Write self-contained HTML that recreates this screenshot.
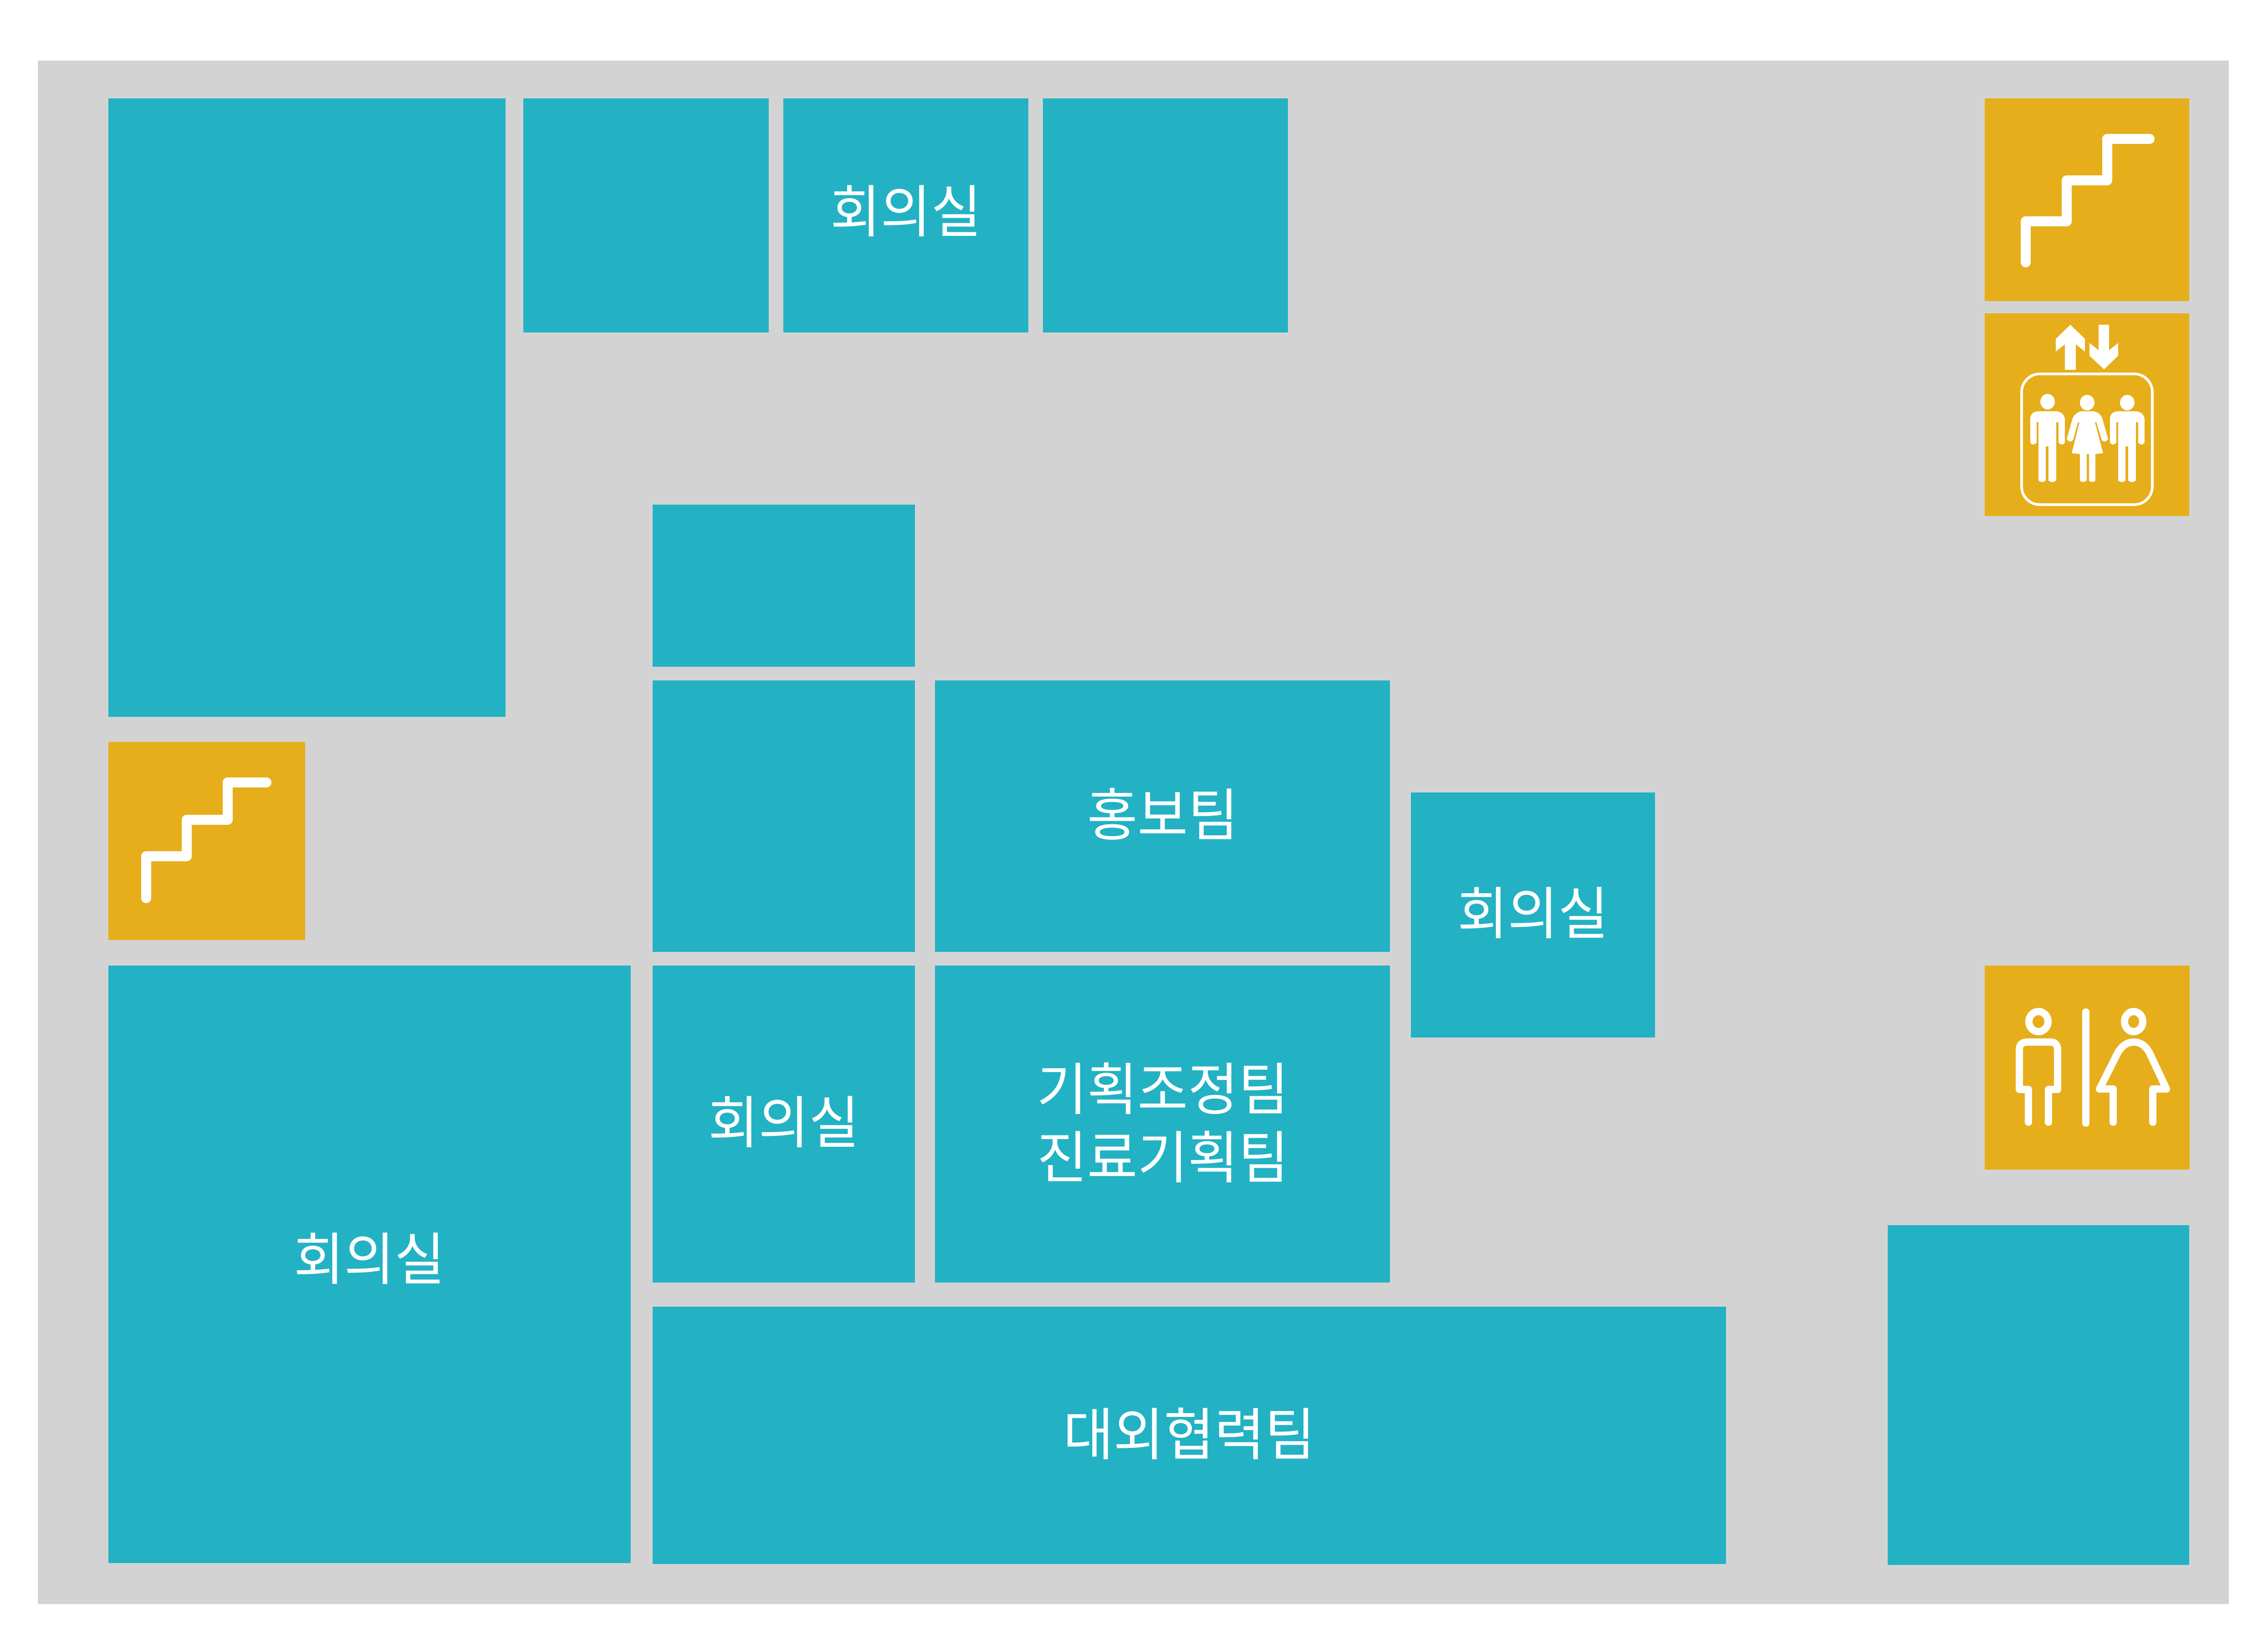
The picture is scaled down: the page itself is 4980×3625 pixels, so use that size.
<!DOCTYPE html>
<html><head><meta charset="utf-8"><style>
html,body{margin:0;padding:0;background:#fff;}
svg{display:block}
text{font-family:"Liberation Sans","Noto Sans CJK KR",sans-serif;fill:#fff;font-size:124px;text-anchor:middle;dominant-baseline:central}
</style></head><body>
<svg width="4980" height="3625" viewBox="0 0 4980 3625" xmlns="http://www.w3.org/2000/svg">
<rect x="0" y="0" width="4980" height="3625" fill="#fff"/>
<rect x="83" y="133" width="4811" height="3389" fill="#d4d3d4"/>
<g fill="#22b2c4">
<rect x="238" y="216" width="872" height="1358"/>
<rect x="1149" y="216" width="539" height="514"/>
<rect x="1720" y="216" width="538" height="514"/>
<rect x="2290" y="216" width="538" height="514"/>
<rect x="1433" y="1108" width="576" height="356"/>
<rect x="1433" y="1494" width="576" height="596"/>
<rect x="2053" y="1494" width="999" height="596"/>
<rect x="3098" y="1740" width="536" height="538"/>
<rect x="238" y="2120" width="1147" height="1312"/>
<rect x="1433" y="2120" width="576" height="696"/>
<rect x="2053" y="2120" width="999" height="696"/>
<rect x="1433" y="2869" width="2357" height="565"/>
<rect x="4145" y="2690" width="662" height="746"/>
</g>
<g fill="#e6ae1a">
<rect x="4358" y="216" width="449" height="445"/>
<rect x="4358" y="688" width="449" height="445"/>
<rect x="4358" y="2120" width="450" height="448"/>
<rect x="238" y="1629" width="432" height="435"/>
</g>
<g fill="none" stroke="#fff" stroke-width="22" stroke-linecap="round" stroke-linejoin="round">
<polyline points="4448,576 4448,486 4538,486 4538,396 4627,396 4627,305 4720,305"/>
<polyline points="321,1972 321,1880 410,1880 410,1800 500,1800 500,1718 585,1718"/>
</g>
<!-- elevator -->
<g fill="#fff">
<polygon points="4546,713 4578,744 4578,772 4558,756 4558,812 4534,812 4534,756 4514,772 4514,744"/>
<polygon points="4620,811 4651,781 4651,753 4631,769 4631,713 4608,713 4608,769 4588,753 4588,781"/>
<ellipse cx="4496" cy="882" rx="16" ry="17"/>
<ellipse cx="4583" cy="884" rx="16" ry="17"/>
<ellipse cx="4671" cy="884" rx="16" ry="17"/>
<path d="M4458,918 Q4460,904 4475,903 L4517,903 Q4532,906 4534,920 L4534,972 Q4528,980 4520,972 L4520,927 L4515,927 L4515,1055 Q4506,1062 4498,1055 L4498,980 L4492,980 L4492,1055 Q4484,1062 4476,1055 L4476,927 L4472,927 L4472,972 Q4464,980 4458,972 Z"/>
<path d="M4633,918 Q4635,904 4650,903 L4692,903 Q4707,906 4709,920 L4709,972 Q4703,980 4695,972 L4695,927 L4690,927 L4690,1055 Q4681,1062 4673,1055 L4673,980 L4667,980 L4667,1055 Q4659,1062 4651,1055 L4651,927 L4647,927 L4647,972 Q4639,980 4633,972 Z"/>
<path d="M4551,918 Q4558,905 4570,903 L4597,903 Q4610,905 4616,918 L4629,964 Q4622,974 4615,966 L4603,927 L4600,927 L4618,995 L4601,997 L4601,1055 Q4593,1062 4587,1055 L4587,997 L4582,997 L4582,1055 Q4574,1062 4567,1055 L4567,997 L4549,995 L4566,927 L4563,927 L4552,966 Q4545,974 4538,964 Z"/>
</g>
<rect x="4439" y="821" width="287" height="287" rx="40" ry="40" fill="none" stroke="#fff" stroke-width="6"/>
<!-- toilet -->
<g fill="none" stroke="#fff" stroke-width="16" stroke-linecap="round" stroke-linejoin="round">
<ellipse cx="4476" cy="2243" rx="21" ry="22"/>
<ellipse cx="4685" cy="2243" rx="20" ry="22"/>
<line x1="4580" y1="2222" x2="4580" y2="2466"/>
<path d="M4454,2464 L4454,2392 L4434,2392 L4434,2305 Q4434,2288 4452,2288 L4502,2288 Q4518,2288 4518,2305 L4518,2392 L4498,2392 L4498,2464"/>
<path d="M4640,2464 L4640,2391 L4610,2391 L4651,2310 Q4665,2288 4685,2288 Q4706,2288 4719,2310 L4757,2391 L4727,2391 L4727,2464"/>
</g>
<text x="1989" y="466" transform="translate(1989,466) scale(0.97,1) translate(-1989,-466)">회의실</text>
<text x="2553" y="1791" transform="translate(2553,1791) scale(0.97,1) translate(-2553,-1791)">홍보팀</text>
<text x="3366" y="2007" transform="translate(3366,2007) scale(0.97,1) translate(-3366,-2007)">회의실</text>
<text x="1721" y="2466" transform="translate(1721,2466) scale(0.97,1) translate(-1721,-2466)">회의실</text>
<text x="2553" y="2393" transform="translate(2553,2393) scale(0.97,1) translate(-2553,-2393)">기획조정팀</text>
<text x="2553" y="2543" transform="translate(2553,2543) scale(0.97,1) translate(-2553,-2543)">진료기획팀</text>
<text x="811" y="2766" transform="translate(811,2766) scale(0.97,1) translate(-811,-2766)">회의실</text>
<text x="2611" y="3151" transform="translate(2611,3151) scale(0.97,1) translate(-2611,-3151)">대외협력팀</text>
</svg>
</body></html>
